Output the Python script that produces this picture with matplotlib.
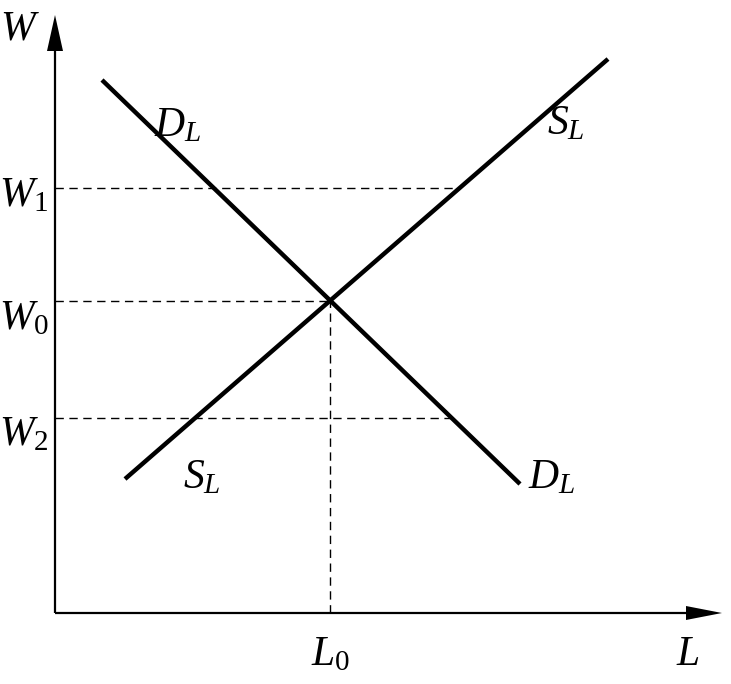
import numpy as np
import matplotlib
matplotlib.use("Agg")
import matplotlib.pyplot as plt

plt.rcParams['mathtext.fontset'] = 'custom'
plt.rcParams['mathtext.it'] = 'Liberation Serif:italic'
plt.rcParams['mathtext.rm'] = 'Liberation Serif'

# curve end points (labour L, wage W)
demand_L = [47, 465]
demand_W = [533, 129]
supply_L = [70, 553]
supply_W = [134, 554]

W_levels = [425, 195]      # W1, W2
W_names = [r'$W_1$', r'$W_2$']

x_max = 667   # axis arrow tip
y_max = 598

# equilibrium from the two lines
kd = (demand_W[1] - demand_W[0]) / (demand_L[1] - demand_L[0])
ks = (supply_W[1] - supply_W[0]) / (supply_L[1] - supply_L[0])
L0 = (supply_W[0] - ks * supply_L[0] - demand_W[0] + kd * demand_L[0]) / (kd - ks)
W0 = supply_W[0] + ks * (L0 - supply_L[0])

fig = plt.figure(figsize=(7.31, 6.84), dpi=100)
ax = fig.add_axes([0, 0, 1, 1])
ax.set_xlim(-55, 676)
ax.set_ylim(-71, 613)
ax.axis('off')

# axes with arrows
ax.plot([0, x_max - 30], [0, 0], color='black', lw=1.6, solid_capstyle='butt')
ax.plot([0, 0], [0, y_max - 30], color='black', lw=1.6, solid_capstyle='butt')
ax.fill([x_max - 36, x_max, x_max - 36], [-7, 0, 7], color='black', lw=0)
ax.fill([-8, 0, 8], [y_max - 36, y_max, y_max - 36], color='black', lw=0)

# dashed guides
dash = dict(color='black', lw=1.0, dashes=(6, 4))
ax.plot([0, L0], [W0, W0], **dash)
ax.plot([L0, L0], [0, W0], **dash)
# W1 meets supply, W2 meets demand
w1_end = supply_L[0] + (W_levels[0] - supply_W[0]) / ks
w2_end = demand_L[0] + (W_levels[1] - demand_W[0]) / kd
ax.plot([0, w1_end], [W_levels[0]] * 2, **dash)
ax.plot([0, w2_end], [W_levels[1]] * 2, **dash)

# demand and supply curves
ax.plot(demand_L, demand_W, color='black', lw=3.2, solid_capstyle='butt')
ax.plot(supply_L, supply_W, color='black', lw=3.2, solid_capstyle='butt')

fs = 30
ax.text(-35, 586, r'$W$', fontsize=fs, ha='center', va='center')
ax.text(x_max - 34, -40, r'$L$', fontsize=fs, ha='center', va='center')
ax.text(L0, -40, r'$L_0$', fontsize=fs, ha='center', va='center')
ax.text(-31, W0 - 17, r'$W_0$', fontsize=fs, ha='center', va='center')
for w, name, off in zip(W_levels, W_names, [-6, -15]):
    ax.text(-31, w + off, name, fontsize=fs, ha='center', va='center')

ax.text(123, 489, r'$D_L$', fontsize=fs, ha='center', va='center')
ax.text(497, 137, r'$D_L$', fontsize=fs, ha='center', va='center')
ax.text(511, 491, r'$S_L$', fontsize=fs, ha='center', va='center')
ax.text(147, 137, r'$S_L$', fontsize=fs, ha='center', va='center')

fig.savefig('out.png', dpi=100, facecolor='white')
